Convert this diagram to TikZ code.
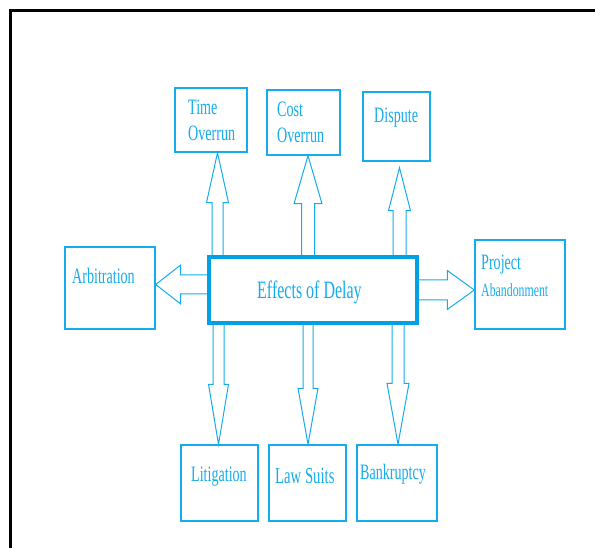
\documentclass[tikz,border=0pt]{standalone}
\usepackage{fontspec}
\usepackage{tikz}
\usetikzlibrary{calc}
\usetikzlibrary{positioning}

\newfontfamily\diagfont[FakeStretch=0.64]{Liberation Serif}
\definecolor{diagblue}{RGB}{20,172,236}
\definecolor{hubblue}{RGB}{0,160,228}

\tikzset{
    effectbox/.style={draw=diagblue, line width=1.4pt, inner sep=0pt},
    hubbox/.style={draw=hubblue, line width=4pt, inner sep=0pt},
    effecttext/.style={inner sep=0pt, text=diagblue, align=left,
        font=\diagfont\fontsize{22}{26}\selectfont},
    blockflow/.style={draw=diagblue, line width=1pt, line join=miter}
}

\begin{document}
\begin{tikzpicture}[x=1pt,y=-1pt]
            \useasboundingbox (0,0) rectangle (595,548);
            \draw[line width=2.2pt] (10.5,548) -- (10.5,10.5) -- (595,10.5);

            \node[effectbox, minimum width=72pt, minimum height=64pt] (time) at (211,120) {};
            \node[effectbox, minimum width=73pt, minimum height=65pt] (cost) at (303.5,122.5) {};
            \node[effectbox, minimum width=67pt, minimum height=69pt] (dispute) at (396.5,126.5) {};
            \node[effectbox, minimum width=90pt, minimum height=82pt] (arbitration) at (110,288) {};
            \node[effectbox, minimum width=90pt, minimum height=89pt] (abandon) at (520,284.5) {};
            \node[effectbox, minimum width=77pt, minimum height=76pt] (litigation) at (219.5,483) {};
            \node[effectbox, minimum width=77pt, minimum height=76pt] (lawsuits) at (307.5,483) {};
            \node[effectbox, minimum width=80pt, minimum height=76pt] (bankruptcy) at (397,483) {};

            \node[effecttext, anchor=north west] (timetxt) at (188,100) {Time\\Overrun};
            \node[effecttext, anchor=north west] (costtxt) at (277,102) {Cost\\Overrun};
            \node[effecttext, anchor=base west] (disputetxt) at (374,123) {Dispute};
            \node[effecttext, anchor=base west] (arbitrationtxt) at (72,284) {Arbitration};
            \node[effecttext, anchor=north west, font=\diagfont\fontsize{22}{27}\selectfont] (abandontxt) at (481,255) {Project\\{\fontsize{18.5}{27}\selectfont Abandonment}};
            \node[effecttext, anchor=base west] (litigationtxt) at (191,481) {Litigation};
            \node[effecttext, anchor=base west, font=\diagfont\fontsize{23}{26}\selectfont] (lawsuitstxt) at (275,483) {Law Suits};
            \node[effecttext, anchor=base west] (bankruptcytxt) at (360,479) {Bankruptcy};

            \coordinate (e1) at (217.5,256);
            \coordinate (e2) at (308,256);
            \coordinate (e3) at (399.5,256);
            \coordinate (e4) at (218.5,324);
            \coordinate (e5) at (308,324);
            \coordinate (e6) at (398,324);
            \coordinate (e7) at (208,284.5);
            \coordinate (e8) at (418,290);

            \coordinate (t1) at (e1 |- time.south);
            \coordinate (t2) at (e2 |- cost.south);
            \coordinate (t3) at ($(e3 |- dispute.south)+(0,6)$);
            \coordinate (t4) at (e4 |- litigation.north);
            \coordinate (t5) at (e5 |- lawsuits.north);
            \coordinate (t6) at (e6 |- bankruptcy.north);
            \coordinate (t7) at (e7 -| arbitration.east);
            \coordinate (t8) at (e8 -| abandon.west);

            \foreach \s/\t/\w/\h/\l in {e1/t1/5.5pt/11pt/50pt, e2/t2/6.5pt/14pt/48pt,
                e3/t3/6.5pt/11pt/43pt, e4/t4/5.5pt/10pt/60pt, e5/t5/5pt/10pt/56pt,
                e6/t6/6pt/11pt/61pt, e7/t7/9.5pt/19.5pt/25pt, e8/t8/10pt/19.5pt/27pt}{
                \coordinate (hb) at ($(\t)!\l!(\s)$);
                \draw[blockflow] ($(\s)!\w!90:(\t)$) -- ($(hb)!\w!90:(\t)$)
                    -- ($(hb)!\h!90:(\t)$) -- (\t) -- ($(hb)!\h!-90:(\t)$)
                    -- ($(hb)!\w!-90:(\t)$) -- ($(\s)!\w!-90:(\t)$);
            }

            \node[hubbox, fill=white, minimum width=208pt, minimum height=66pt] (delay) at (313,290) {};
            \node[effecttext, anchor=base west, font=\diagfont\fontsize{25}{26}\selectfont] (delaytxt) at (257,299) {Effects of Delay};
        \end{tikzpicture}
\end{document}
